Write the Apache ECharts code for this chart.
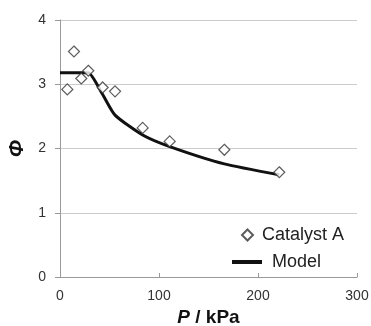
<!DOCTYPE html>
<html>
<head>
<meta charset="utf-8">
<script src="https://cdn.jsdelivr.net/npm/echarts@6/dist/echarts.min.js"></script>
<style>
  html, body { margin: 0; padding: 0; background: #fff; }
  #chart { width: 371px; height: 326px; }
</style>
</head>
<body>
<div id="chart"></div>
<script>
// measured points, Catalyst A
const pressure = [7.4, 14.1, 21.5, 28.6, 43.1, 55.6, 83.5, 110.8, 166, 221.5];
const phi = [2.92, 3.51, 3.09, 3.21, 2.95, 2.89, 2.32, 2.11, 1.98, 1.63];

// model curve
const modelP = [0, 7.4, 14.1, 21.5, 28.6, 43.1, 55.6, 83.5, 110.8, 166, 221.5];
const modelPhi = [3.18, 3.18, 3.18, 3.18, 3.18, 2.84, 2.52, 2.21, 2.03, 1.76, 1.59];

const xTicks = [0, 100, 200, 300];
const yTicks = [0, 1, 2, 3, 4];

const font = 'Liberation Sans, Arial, sans-serif';
const chart = echarts.init(document.getElementById('chart'));

chart.setOption({
    animation: false,
    grid: { left: 60, right: 14, top: 20, bottom: 49, outerBoundsMode: 'none', containLabel: false },
    legend: [
        {
            left: 236,
            top: 221,
            itemWidth: 11,
            itemHeight: 11,
            data: [{ name: 'Catalyst A', icon: 'diamond' }],
            textStyle: { fontFamily: font, fontSize: 18, color: '#222', padding: [0, 0, 0, 4] },
        },
        {
            left: 227,
            top: 248,
            itemWidth: 30,
            itemHeight: 4,
            data: [{ name: 'Model', icon: 'rect' }],
            textStyle: { fontFamily: font, fontSize: 18, color: '#222', padding: [0, 0, 0, 5] },
        },
    ],
    xAxis: {
        type: 'value',
        min: xTicks[0],
        max: xTicks[xTicks.length - 1],
        interval: 100,
        name: '{i|P} / kPa',
        nameLocation: 'middle',
        nameGap: 26,
        nameTextStyle: {
            fontFamily: font,
            fontSize: 19,
            fontWeight: 'bold',
            color: '#111',
            rich: { i: { fontFamily: font, fontSize: 19, fontWeight: 'bold', fontStyle: 'italic', color: '#111' } },
        },
        axisLine: { lineStyle: { color: '#999', width: 1 } },
        axisTick: { show: true, inside: true, length: 4, lineStyle: { color: '#999' } },
        splitLine: { show: false },
        axisLabel: { fontFamily: font, fontSize: 14, color: '#333', margin: 12 },
    },
    yAxis: {
        type: 'value',
        min: yTicks[0],
        max: yTicks[yTicks.length - 1],
        interval: 1,
        name: 'Φ',
        nameLocation: 'middle',
        nameGap: 31,
        nameRotate: 90,
        nameTextStyle: { fontFamily: font, fontSize: 21, fontWeight: 'bold', fontStyle: 'italic', color: '#111' },
        axisLine: { show: true, lineStyle: { color: '#999', width: 1 } },
        axisTick: { show: true, length: 5, lineStyle: { color: '#999' } },
        splitLine: { show: true, lineStyle: { color: '#ccc', width: 1 } },
        axisLabel: { fontFamily: font, fontSize: 14, color: '#333', margin: 14 },
    },
    series: [
        {
            name: 'Model',
            type: 'line',
            data: modelP.map((p, i) => [p, modelPhi[i]]),
            showSymbol: false,
            smooth: 0.2,
            lineStyle: { color: '#111', width: 3 },
            itemStyle: { color: '#111' },
            z: 2,
        },
        {
            name: 'Catalyst A',
            type: 'scatter',
            data: pressure.map((p, i) => [p, phi[i]]),
            symbol: 'diamond',
            symbolSize: 11,
            itemStyle: { color: '#fff', borderColor: '#333', borderWidth: 1.2 },
            z: 3,
        },
    ],
});
</script>
</body>
</html>
